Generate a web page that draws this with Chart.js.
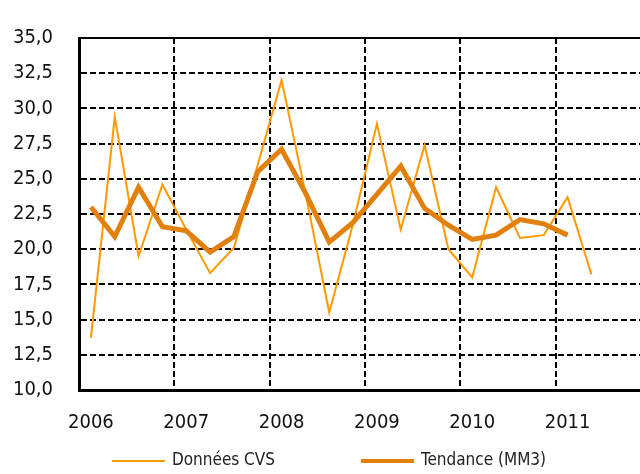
<!DOCTYPE html>
<html lang="fr">
<head>
<meta charset="utf-8">
<script src="https://cdn.jsdelivr.net/npm/chart.js@4.4.1/dist/chart.umd.min.js"></script>
<style>
  html, body { margin: 0; padding: 0; background: #fff; overflow: hidden; }
  #zone { width: 670px; height: 474px; }
</style>
</head>
<body>
<div id="zone"><canvas id="graphique"></canvas></div>
<script>
// Trimestres (une catégorie par trimestre, l'étiquette n'affiche que l'année)
const trimestres = [
	'2006 T1', '2006 T2', '2006 T3', '2006 T4',
	'2007 T1', '2007 T2', '2007 T3', '2007 T4',
	'2008 T1', '2008 T2', '2008 T3', '2008 T4',
	'2009 T1', '2009 T2', '2009 T3', '2009 T4',
	'2010 T1', '2010 T2', '2010 T3', '2010 T4',
	'2011 T1', '2011 T2', '2011 T3', '2011 T4'
];

// Séries
const donneesCVS = [13.7, 29.4, 19.5, 24.6, 21.4, 18.3, 20.1, 26.0, 32.0, 24.0, 15.5,
	21.8, 28.9, 21.4, 27.4, 20.0, 18.0, 24.4, 20.8, 21.0, 23.7, 18.2];
const tendanceMM3 = [23.0, 20.9, 24.4, 21.6, 21.3, 19.8, 20.9, 25.5, 27.1, 24.0, 20.5,
	21.9, 23.9, 25.9, 22.9, 21.7, 20.7, 21.0, 22.1, 21.8, 21.0];

const nomsSeries = ['Données CVS', 'Tendance (MM3)'];
const couleurs = ['#FF9900', '#E2800D'];

const police = "'DejaVu Sans Condensed', 'DejaVu Sans', sans-serif";

// Cadre haut et droit de la zone de tracé
const cadre = {
	id: 'cadre',
	beforeDatasetsDraw(chart) {
		const { ctx, chartArea: a } = chart;
		ctx.save();
		ctx.strokeStyle = '#000';
		ctx.lineWidth = 2;
		ctx.beginPath();
		ctx.moveTo(a.left, a.top);
		ctx.lineTo(a.right, a.top);
		ctx.lineTo(a.right, a.bottom);
		ctx.stroke();
		ctx.restore();
	}
};

// Légende en bas, dessinée à partir des jeux de données
const legende = {
	id: 'legende',
	afterDraw(chart) {
		const ctx = chart.ctx;
		const longTrait = 53, ecart = 7, entreItems = 86;
		const y = 461;
		ctx.save();
		ctx.font = '17px ' + police;
		ctx.textBaseline = 'middle';
		const items = chart.data.datasets.map(ds => ({
			texte: ds.label,
			couleur: ds.borderColor,
			epaisseur: ds.borderWidth === 2 ? 2 : 4,
			largeur: ctx.measureText(ds.label).width
		}));
		const total = items.reduce((s, it) => s + longTrait + ecart + it.largeur, 0) + entreItems * (items.length - 1);
		let x = 329 - total / 2;
		items.forEach(it => {
			ctx.strokeStyle = it.couleur;
			ctx.lineWidth = it.epaisseur;
			ctx.beginPath();
			ctx.moveTo(x, y);
			ctx.lineTo(x + longTrait, y);
			ctx.stroke();
			x += longTrait + ecart;
			ctx.fillStyle = '#222';
			ctx.fillText(it.texte, x, y);
			x += it.largeur + entreItems;
		});
		ctx.restore();
	}
};

const graphique = new Chart(document.getElementById('graphique'), {
	type: 'line',
	data: {
		labels: trimestres,
		datasets: [
			{
				label: nomsSeries[0],
				data: donneesCVS,
				borderColor: couleurs[0],
				backgroundColor: couleurs[0],
				borderWidth: 2,
				pointRadius: 0,
				tension: 0,
				order: 2
			},
			{
				label: nomsSeries[1],
				data: tendanceMM3,
				borderColor: couleurs[1],
				backgroundColor: couleurs[1],
				borderWidth: 5,
				pointRadius: 0,
				tension: 0,
				order: 1
			}
		]
	},
	options: {
		responsive: true,
		maintainAspectRatio: false,
		animation: false,
		layout: { padding: { top: 14, right: 19, bottom: 0, left: 0 } },
		plugins: {
			legend: { display: false },
			tooltip: { enabled: false }
		},
		scales: {
			x: {
				type: 'category',
				offset: true,
				grid: {
					offset: true,
					drawTicks: false,
					lineWidth: 2,
					color: c => (c.index !== undefined && c.index % 4 === 0) ? '#000' : 'rgba(0,0,0,0)'
				},
				border: { display: true, color: '#000', width: 3, dash: [6, 3] },
				ticks: {
					autoSkip: false,
					maxRotation: 0,
					padding: 21,
					color: '#111',
					font: { family: police, size: 20 },
					callback: function (valeur) {
						const lbl = this.getLabelForValue(valeur);
						return lbl.endsWith('T1') ? lbl.slice(0, 4) : '';
					}
				},
				afterFit: s => { s.height = 84; }
			},
			y: {
				min: 10,
				max: 35,
				grid: { drawTicks: false, lineWidth: 2, color: '#000' },
				border: { display: true, color: '#000', width: 3, dash: [6, 3] },
				ticks: {
					stepSize: 2.5,
					padding: 26,
					color: '#111',
					font: { family: police, size: 20 },
					callback: v => v.toFixed(1).replace('.', ',')
				},
				afterFit: s => { s.width = 79; }
			}
		}
	},
	plugins: [cadre, legende]
});
</script>
</body>
</html>
